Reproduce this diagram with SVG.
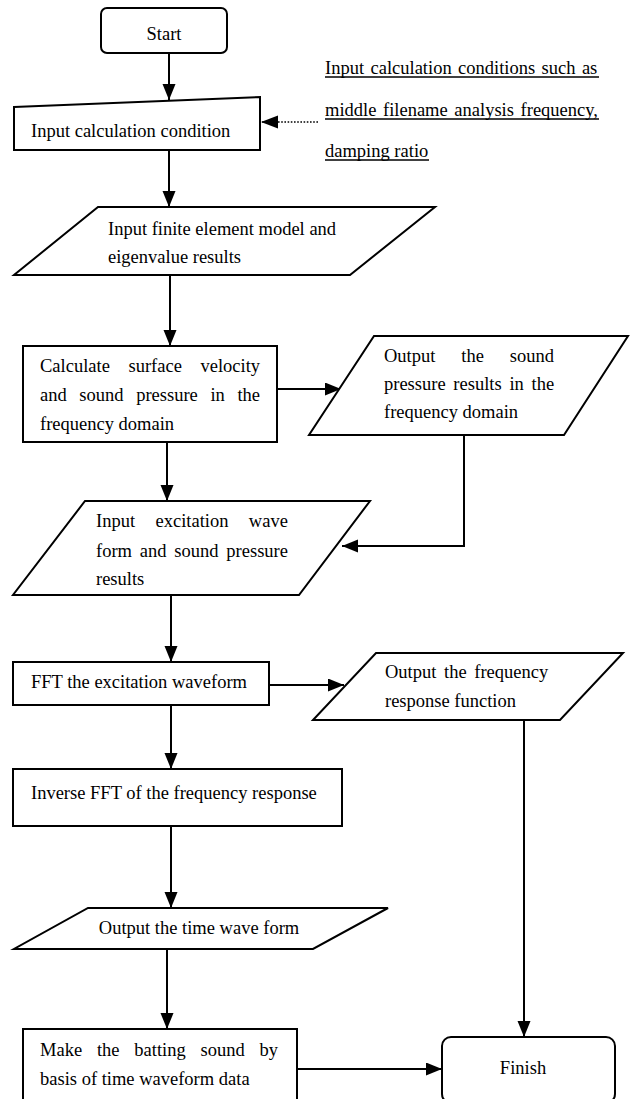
<svg xmlns="http://www.w3.org/2000/svg" width="630" height="1099" viewBox="0 0 630 1099">
<style>
.s{fill:#fff;stroke:#000;stroke-width:2}
.t{font-family:"Liberation Serif","Times New Roman",serif;font-size:18.5px;fill:#000}
.c{fill:none;stroke:#000;stroke-width:2}
.d{fill:none;stroke:#000;stroke-width:1.6;stroke-dasharray:1.6 1.6}
.u{stroke:#000;stroke-width:1.3}
</style>
<defs>
<marker id="ah" markerUnits="userSpaceOnUse" markerWidth="17" markerHeight="14" refX="16" refY="6.5" orient="auto">
<path d="M0,0 L16,6.5 L0,13 z" fill="#000"/>
</marker>
</defs>
<rect width="630" height="1099" fill="#fff"/>
<g id="connectors">
<line class="c" x1="169" y1="53" x2="169" y2="100" marker-end="url(#ah)"/>
<line class="d" x1="318" y1="122" x2="262" y2="122"/>
<path d="M261,122 L278,115.5 L278,128.5 z" fill="#000"/>
<line class="c" x1="169" y1="150" x2="169" y2="207" marker-end="url(#ah)"/>
<line class="c" x1="170" y1="275" x2="170" y2="346" marker-end="url(#ah)"/>
<line class="c" x1="277" y1="389" x2="341" y2="389" marker-end="url(#ah)"/>
<polyline class="c" points="464,435 464,546 342,546" marker-end="url(#ah)"/>
<line class="c" x1="167" y1="442" x2="167" y2="501" marker-end="url(#ah)"/>
<line class="c" x1="171" y1="595" x2="171" y2="662" marker-end="url(#ah)"/>
<line class="c" x1="269" y1="685" x2="344" y2="685" marker-end="url(#ah)"/>
<line class="c" x1="524" y1="720" x2="524" y2="1037" marker-end="url(#ah)"/>
<line class="c" x1="171" y1="705" x2="171" y2="769" marker-end="url(#ah)"/>
<line class="c" x1="171" y1="826" x2="171" y2="908" marker-end="url(#ah)"/>
<line class="c" x1="167" y1="949" x2="167" y2="1029" marker-end="url(#ah)"/>
<line class="c" x1="290" y1="1069" x2="442" y2="1069" marker-end="url(#ah)"/>
</g>
<g id="start">
<rect class="s" x="101" y="8" width="126" height="45" rx="6"/>
<text class="t" x="164" y="40" text-anchor="middle">Start</text>
</g>
<g id="note">
<text class="t" x="325" y="74" word-spacing="1.8">Input calculation conditions such as</text>
<line class="u" x1="325" y1="77" x2="599" y2="77"/>
<text class="t" x="325" y="116" word-spacing="2">middle filename analysis frequency,</text>
<line class="u" x1="325" y1="119" x2="599" y2="119"/>
<text class="t" x="325" y="157">damping ratio</text>
<line class="u" x1="325" y1="160" x2="429" y2="160"/>
</g>
<g id="inputCond">
<polygon class="s" points="14,107 260,97 260,150 14,150"/>
<text class="t" x="31" y="137">Input calculation condition</text>
</g>
<g id="inputModel">
<polygon class="s" points="98,207 435,207 350,275 14,275"/>
<text class="t" x="108" y="235">Input finite element model and</text>
<text class="t" x="108" y="263">eigenvalue results</text>
</g>
<g id="calc">
<rect class="s" x="23" y="346" width="254" height="96"/>
<text class="t" x="40" y="372" word-spacing="14">Calculate surface velocity</text>
<text class="t" x="40" y="401" word-spacing="8">and sound pressure in the</text>
<text class="t" x="40" y="430">frequency domain</text>
</g>
<g id="outSound">
<polygon class="s" points="374,336 628,336 564,435 309,435"/>
<text class="t" x="384" y="362" word-spacing="21.3">Output the sound</text>
<text class="t" x="384" y="390" word-spacing="3.1">pressure results in the</text>
<text class="t" x="384" y="418">frequency domain</text>
</g>
<g id="inputExc">
<polygon class="s" points="85,501 370,501 299,595 13,595"/>
<text class="t" x="96" y="527" word-spacing="15.8">Input excitation wave</text>
<text class="t" x="96" y="557" word-spacing="3.2">form and sound pressure</text>
<text class="t" x="96" y="585">results</text>
</g>
<g id="fft">
<rect class="s" x="13" y="662" width="256" height="43"/>
<text class="t" x="31" y="688">FFT the excitation waveform</text>
</g>
<g id="outFreq">
<polygon class="s" points="376,653 623,653 560,720 313,720"/>
<text class="t" x="385" y="678" word-spacing="3">Output the frequency</text>
<text class="t" x="385" y="707">response function</text>
</g>
<g id="inverse">
<rect class="s" x="13" y="769" width="329" height="57"/>
<text class="t" x="31" y="799">Inverse FFT of the frequency response</text>
</g>
<g id="outTime">
<polygon class="s" points="88,908 388,908 313,949 14,949"/>
<text class="t" x="199" y="934" text-anchor="middle">Output the time wave form</text>
</g>
<g id="make">
<rect class="s" x="23" y="1029" width="274" height="80"/>
<text class="t" x="40" y="1056" word-spacing="10.2">Make the batting sound by</text>
<text class="t" x="40" y="1085">basis of time waveform data</text>
</g>
<g id="finish">
<rect class="s" x="442" y="1037" width="173" height="66" rx="9"/>
<text class="t" x="523" y="1074" text-anchor="middle">Finish</text>
</g>
</svg>
